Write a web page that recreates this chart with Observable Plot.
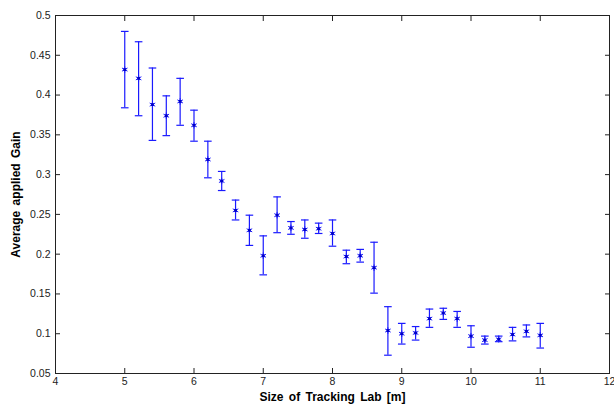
<!DOCTYPE html>
<html>
<head>
<meta charset="utf-8">
<script src="https://cdn.jsdelivr.net/npm/d3@7"></script>
<script src="https://cdn.jsdelivr.net/npm/@observablehq/plot@0.6"></script>
<style>
  body { margin: 0; background: #fff; }
  svg { font-family: "Liberation Sans", Arial, sans-serif; }
  g[aria-label="x-axis label"] text, g[aria-label="y-axis label"] text { font-weight: bold; font-size: 12px; fill: #000; word-spacing: 2px; }
</style>
</head>
<body>
<div id="chart"></div>
<script>
const labSize = [5.0, 5.2, 5.4, 5.6, 5.8, 6.0, 6.2, 6.4, 6.6, 6.8, 7.0, 7.2, 7.4, 7.6, 7.8, 8.0, 8.2, 8.4, 8.6, 8.8, 9.0, 9.2, 9.4, 9.6, 9.8, 10.0, 10.2, 10.4, 10.6, 10.8, 11.0];
const gainMean = [0.432, 0.421, 0.388, 0.374, 0.392, 0.362, 0.319, 0.292, 0.255, 0.230, 0.198, 0.249, 0.233, 0.231, 0.232, 0.226, 0.197, 0.198, 0.183, 0.104, 0.100, 0.101, 0.119, 0.126, 0.119, 0.097, 0.092, 0.093, 0.099, 0.103, 0.098];
const gainHigh = [0.480, 0.467, 0.434, 0.399, 0.421, 0.381, 0.342, 0.304, 0.268, 0.249, 0.223, 0.272, 0.241, 0.243, 0.239, 0.243, 0.205, 0.206, 0.215, 0.134, 0.113, 0.109, 0.131, 0.132, 0.128, 0.110, 0.097, 0.097, 0.108, 0.111, 0.113];
const gainLow  = [0.384, 0.374, 0.343, 0.349, 0.362, 0.342, 0.296, 0.280, 0.243, 0.211, 0.174, 0.227, 0.225, 0.220, 0.226, 0.210, 0.188, 0.190, 0.151, 0.073, 0.087, 0.092, 0.108, 0.118, 0.108, 0.083, 0.087, 0.090, 0.091, 0.096, 0.082];
const xTicks = [4, 5, 6, 7, 8, 9, 10, 11, 12];
const yTicks = [0.05, 0.1, 0.15, 0.2, 0.25, 0.3, 0.35, 0.4, 0.45, 0.5];

const data = labSize.map((x, i) => ({x, y: gainMean[i], lo: gainLow[i], hi: gainHigh[i]}));

const capSymbol = {
  draw(context, size) {
    const w = Math.sqrt(size / Math.PI);
    context.moveTo(-w, 0);
    context.lineTo(w, 0);
  }
};
const blue = "#1a1aff";
const fmt = d => String(+d.toFixed(2));

const chart = Plot.plot({
  width: 614,
  height: 405,
  marginLeft: 55,
  marginRight: 5,
  marginTop: 15,
  marginBottom: 32,
  style: {fontSize: "10.5px", color: "#222"},
  x: {domain: [4, 12]},
  y: {domain: [0.05, 0.5]},
  marks: [
    Plot.frame({stroke: "#222"}),
    Plot.axisX(xTicks, {anchor: "bottom", tickSize: -5, tickPadding: 9, tickFormat: fmt, label: "Size of Tracking Lab [m]", labelAnchor: "center", labelArrow: "none", labelOffset: 27}),
    Plot.axisX(xTicks, {anchor: "top", tickSize: -5, tickFormat: () => "", label: null}),
    Plot.axisY(yTicks, {anchor: "left", tickSize: -5, tickPadding: 10, tickFormat: fmt, label: "Average applied Gain", labelAnchor: "center", labelArrow: "none", labelOffset: 44}),
    Plot.axisY(yTicks, {anchor: "right", tickSize: -5, tickFormat: () => "", label: null}),
    Plot.ruleX(data, {x: "x", y1: "lo", y2: "hi", stroke: blue, strokeWidth: 1.2}),
    Plot.dot(data, {x: "x", y: "hi", symbol: capSymbol, r: 3.8, stroke: blue, strokeWidth: 1.2, fill: "none"}),
    Plot.dot(data, {x: "x", y: "lo", symbol: capSymbol, r: 3.8, stroke: blue, strokeWidth: 1.2, fill: "none"}),
    Plot.dot(data, {x: "x", y: "y", symbol: "asterisk", r: 3, stroke: blue, strokeWidth: 1}),
    Plot.dot(data, {x: "x", y: "y", symbol: "square", r: 1.6, fill: "#0000c8", stroke: "none"})
  ]
});
document.getElementById("chart").appendChild(chart);
</script>
</body>
</html>
